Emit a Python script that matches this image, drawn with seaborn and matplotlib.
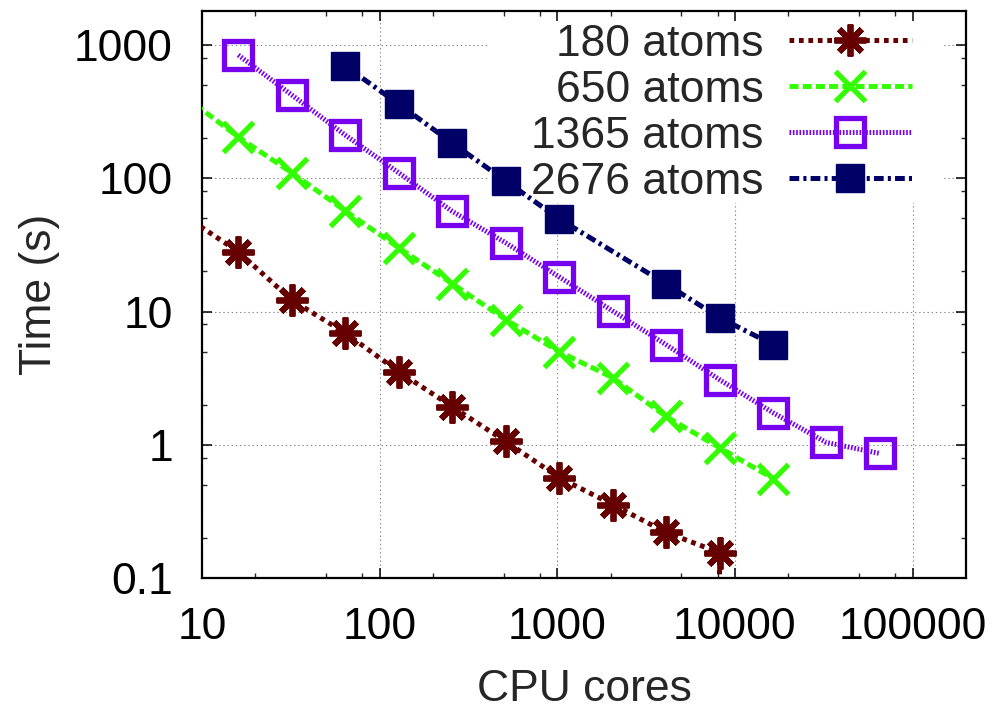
import matplotlib
matplotlib.use("Agg")
import matplotlib.pyplot as plt
import seaborn as sns
from matplotlib.patches import Rectangle

# ---- data ----
cores_180 = [8, 16, 32, 64, 128, 256, 512, 1024, 2048, 4096, 8192, 8192]
time_180 = [52, 28.1, 12.2, 6.9, 3.54, 1.93, 1.06, 0.567, 0.356, 0.220, 0.155, 0.03]

cores_650 = [8, 16, 32, 64, 128, 256, 512, 1024, 2048, 4096, 8192, 16384]
time_650 = [410, 204, 110, 57, 30.1, 16.2, 8.7, 5.0, 3.19, 1.63, 0.95, 0.558]

cores_1365 = [16, 32, 64, 128, 256, 512, 1024, 2048, 4096, 8192, 16384, 32768, 65536]
time_1365 = [841, 422, 211, 110, 56.5, 32.8, 18.2, 10.1, 5.64, 3.08, 1.74, 1.04, 0.86]

cores_2676 = [64, 128, 256, 512, 1024, 4096, 8192, 16384]
time_2676 = [696, 361, 184, 95.6, 49.6, 16.1, 9.0, 5.64]

series_labels = ["180 atoms", "650 atoms", "1365 atoms", "2676 atoms"]
x_ticks = [10, 100, 1000, 10000, 100000]
x_tick_labels = ["10", "100", "1000", "10000", "100000"]
y_ticks = [0.1, 1, 10, 100, 1000]
y_tick_labels = ["0.1", "1", "10", "100", "1000"]
x_label = "CPU cores"
y_label = "Time (s)"

# ---- style ----
sns.set_style("ticks")
plt.rcParams["font.family"] = ["Liberation Sans", "DejaVu Sans"]
plt.rcParams["lines.scale_dashes"] = False
FS = 32

W, H = 995, 712
fig = plt.figure(figsize=(W / 100, H / 100), dpi=100)
L, R, T, B = 202, 966, 11, 578
pos = [L / W, 1 - B / H, (R - L) / W, (B - T) / H]

ax_bg = fig.add_axes(pos)
ax = fig.add_axes(pos, sharex=ax_bg, sharey=ax_bg)
ax.patch.set_visible(False)

for a in (ax_bg, ax):
    a.set_xscale("log")
    a.set_yscale("log")
ax.set_xlim(10, 200000)
ax.set_ylim(0.1, 1800)

# background axes: grid + white key background
ax_bg.grid(True, which="major", color="#8a8a8a", linestyle=(0, (1.0, 2.0)), linewidth=0.8)
ax_bg.tick_params(which="both", length=0, labelbottom=False, labelleft=False)
for s in ax_bg.spines.values():
    s.set_visible(False)
ax_bg.add_patch(Rectangle(((490 - L) / (R - L), (B - 203) / (B - T)),
                          (943 - 490) / (R - L), (203 - T) / (B - T) + 0.01,
                          transform=ax_bg.transAxes, facecolor="white",
                          edgecolor="none", zorder=2, clip_on=False))

# ---- series ----
sns.lineplot(x=cores_180, y=time_180, ax=ax, estimator=None, sort=False,
             color="#660000", linewidth=3.6, linestyle=(0, (3.4, 3.4)),
             marker=(8, 2, 0), markersize=23, markeredgewidth=4.2,
             markeredgecolor="#660000", zorder=3)
sns.lineplot(x=cores_650, y=time_650, ax=ax, estimator=None, sort=False,
             color="#33ff00", linewidth=3.6, linestyle=(0, (6.5, 3.0)),
             marker="x", markersize=22, markeredgewidth=3.8,
             markeredgecolor="#33ff00", zorder=3)
sns.lineplot(x=cores_1365, y=time_1365, ax=ax, estimator=None, sort=False,
             color="#7700ee", linewidth=3.6, linestyle=(0, (1.2, 1.2)),
             marker="s", markersize=20, markeredgewidth=3.8,
             markerfacecolor="none", markeredgecolor="#7700ee", zorder=3)
sns.lineplot(x=cores_2676, y=time_2676, ax=ax, estimator=None, sort=False,
             color="#000066", linewidth=3.6, linestyle=(0, (7.0, 3.0, 2.2, 3.0)),
             marker="s", markersize=20, markeredgewidth=1.0,
             markerfacecolor="#000066", markeredgecolor="#000066", zorder=3)

# ---- axes styling ----
ax.set_xticks(x_ticks, x_tick_labels)
ax.set_yticks(y_ticks, y_tick_labels)
minor_x = [m * 10 ** k for k in range(1, 5) for m in (2, 5, 8)]
minor_y = [m * 10 ** k for k in range(-1, 3) for m in (2, 5, 8)]
ax.set_xticks(minor_x, minor=True)
ax.set_yticks(minor_y, minor=True)
ax.set_xticklabels([], minor=True)
ax.set_yticklabels([], minor=True)
ax.set_xlim(10, 200000)
ax.set_ylim(0.1, 1800)
ax.tick_params(which="major", direction="in", length=7, width=1.1,
               top=True, right=True, labelsize=FS, pad=21, colors="black")
ax.tick_params(which="minor", direction="in", length=3.5, width=1.0,
               top=True, right=True)
for s in ax.spines.values():
    s.set_visible(True)
    s.set_linewidth(1.6)
    s.set_color("black")

ax.set_xlabel(x_label, fontsize=FS, labelpad=15)
ax.set_ylabel(y_label, fontsize=FS, labelpad=10)

handles = ax.lines[:4]
leg = ax.legend(handles, series_labels, loc="upper right",
                bbox_to_anchor=(912 / W, 1 - 24 / H), bbox_transform=fig.transFigure,
                frameon=False, markerfirst=False, fontsize=FS,
                borderpad=0, borderaxespad=0, handlelength=2.77,
                handletextpad=0.57, labelspacing=0.11)
leg.set_zorder(5)

fig.savefig("out.png", dpi=100)
